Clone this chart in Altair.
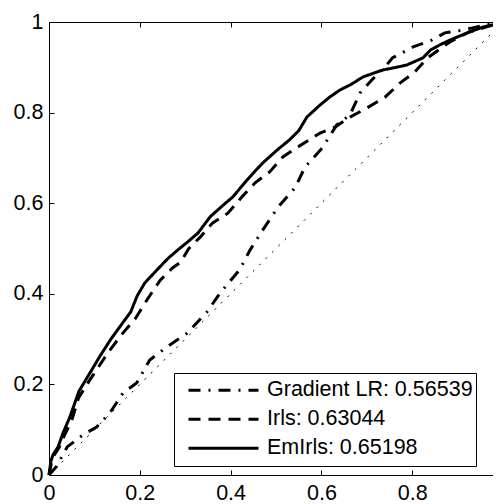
import altair as alt
import pandas as pd

FONT = "Liberation Sans"
FS = 21.5

series_names = ["Gradient LR: 0.56539", "Irls: 0.63044", "EmIrls: 0.65198"]

grad_x = [0, 0.016, 0.04, 0.074, 0.105, 0.134, 0.163, 0.193, 0.222, 0.26, 0.304, 0.348,
          0.377, 0.42, 0.443, 0.471, 0.505, 0.542, 0.564, 0.602, 0.634, 0.663, 0.685,
          0.711, 0.74, 0.757, 0.802, 0.843, 0.872, 0.9, 0.933, 0.971, 1]
grad_y = [0, 0.018, 0.062, 0.088, 0.106, 0.137, 0.181, 0.203, 0.254, 0.283, 0.313, 0.36,
          0.402, 0.453, 0.497, 0.541, 0.592, 0.634, 0.68, 0.722, 0.773, 0.795, 0.843,
          0.872, 0.901, 0.921, 0.945, 0.96, 0.976, 0.98, 0.987, 0.996, 1]

irls_x = [0, 0.006, 0.012, 0.022, 0.035, 0.05, 0.065, 0.09, 0.11, 0.13, 0.16, 0.19, 0.218,
          0.245, 0.272, 0.29, 0.308, 0.333, 0.36, 0.394, 0.425, 0.454, 0.486, 0.515,
          0.548, 0.597, 0.63, 0.663, 0.70, 0.74, 0.773, 0.806, 0.833, 0.883, 0.926,
          0.987, 1]
irls_y = [0, 0.03, 0.045, 0.06, 0.09, 0.12, 0.17, 0.21, 0.24, 0.27, 0.31, 0.345, 0.39,
          0.43, 0.457, 0.47, 0.50, 0.525, 0.556, 0.578, 0.614, 0.645, 0.669, 0.702,
          0.724, 0.755, 0.768, 0.79, 0.81, 0.834, 0.865, 0.89, 0.92, 0.956, 0.978,
          0.996, 1]

em_x = [0, 0.004, 0.009, 0.02, 0.031, 0.046, 0.066, 0.09, 0.112, 0.135, 0.158, 0.18,
        0.194, 0.211, 0.24, 0.262, 0.284, 0.306, 0.328, 0.355, 0.384, 0.405, 0.436,
        0.455, 0.471, 0.502, 0.530, 0.55, 0.568, 0.595, 0.618, 0.641, 0.665, 0.692,
        0.735, 0.765, 0.788, 0.824, 0.840, 0.862, 0.883, 0.921, 0.956, 0.987, 1]
em_y = [0, 0.03, 0.045, 0.062, 0.093, 0.128, 0.185, 0.225, 0.262, 0.298, 0.33, 0.36,
        0.395, 0.424, 0.455, 0.478, 0.497, 0.515, 0.534, 0.570, 0.596, 0.614, 0.651,
        0.672, 0.689, 0.717, 0.740, 0.76, 0.790, 0.815, 0.834, 0.850, 0.862, 0.879,
        0.894, 0.900, 0.905, 0.921, 0.938, 0.950, 0.960, 0.976, 0.989, 0.996, 1]

diag_x = [0, 1]
diag_y = [0, 1]

tick_values = [0, 0.2, 0.4, 0.6, 0.8, 1]

rows = []
for name, xs, ys in zip(series_names, [grad_x, irls_x, em_x], [grad_y, irls_y, em_y]):
    for i, (a, b) in enumerate(zip(xs, ys)):
        rows.append({"series": name, "fpr": a, "tpr": b, "order": i})
df = pd.DataFrame(rows)
diag = pd.DataFrame({"fpr": diag_x, "tpr": diag_y})

x_scale = alt.Scale(domain=[0, 1], nice=False, zero=False)
y_scale = alt.Scale(domain=[0, 1], nice=False, zero=False)

common = dict(values=tick_values, format=".1~f", labelFont=FONT, labelFontSize=FS,
              labelColor="black", tickColor="black", tickSize=5, tickWidth=1,
              offset=-5, domain=False, grid=False, labelFlush=False,
              labelOverlap=False, labelBound=False, title=None)

x_bottom = alt.Axis(orient="bottom", labelPadding=7, labels=True, **common)
y_left = alt.Axis(orient="left", labelPadding=6, labels=True, **common)
x_top = alt.Axis(orient="top", labels=False, **common)
y_right = alt.Axis(orient="right", labels=False, **common)

diag_chart = alt.Chart(diag).mark_line(
    strokeWidth=1, color="black", strokeDash=[2, 7]
).encode(
    x=alt.X("fpr:Q", scale=x_scale, axis=x_top),
    y=alt.Y("tpr:Q", scale=y_scale, axis=y_right),
)

lines = alt.Chart(df).mark_line(strokeWidth=3, color="black", strokeCap="butt").encode(
    x=alt.X("fpr:Q", scale=x_scale, axis=x_bottom),
    y=alt.Y("tpr:Q", scale=y_scale, axis=y_left),
    strokeDash=alt.StrokeDash(
        "series:N",
        sort=series_names,
        scale=alt.Scale(domain=series_names,
                        range=[[12, 8, 2, 8], [12, 8], [1, 0]]),
        legend=alt.Legend(
            title=None, orient="none", legendX=125, legendY=351,
            direction="vertical", symbolType="stroke", symbolSize=4900,
            symbolStrokeWidth=3, symbolStrokeColor="black",
            labelFont=FONT, labelFontSize=FS, labelColor="black",
            labelOffset=7, labelLimit=400, strokeColor="black",
            fillColor="white", padding=3, symbolOffset=10,
            clipHeight=28.5, rowPadding=0, cornerRadius=0,
        ),
    ),
    order="order:Q",
)

chart = alt.layer(diag_chart, lines).resolve_axis(
    x="independent", y="independent"
).properties(
    width=454, height=453,
    padding={"left": 41, "top": 14, "right": -10, "bottom": 29},
    autosize="none",
).configure_view(stroke="black", strokeWidth=1)

chart.save("out.html", embed_options={"renderer": "svg", "actions": False})
